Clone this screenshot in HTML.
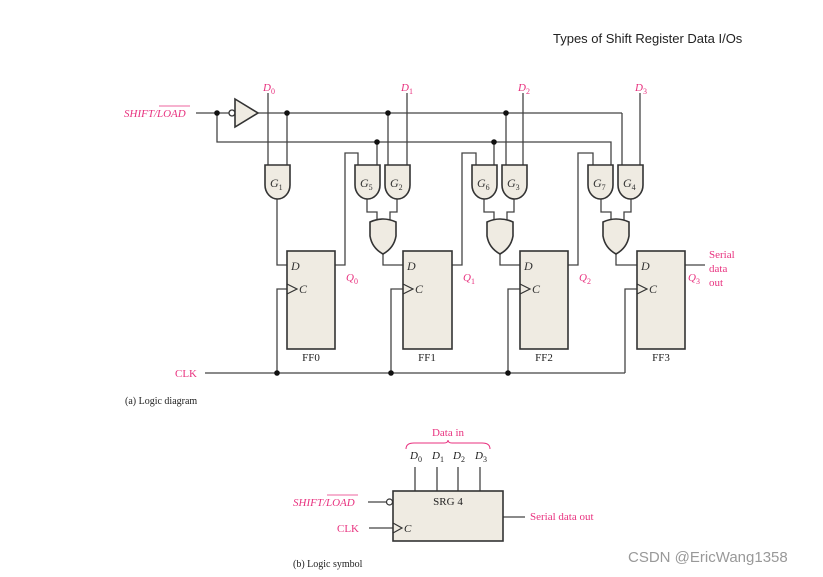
<!DOCTYPE html>
<html><head><meta charset="utf-8"><style>
html,body{margin:0;padding:0;background:#fff;}
svg{display:block;}
text{font-family:"Liberation Serif",serif;}
.m{fill:#e8327f;}
tspan.s{font-style:normal;}
</style></head><body>
<svg width="823" height="577" viewBox="0 0 823 577" xmlns="http://www.w3.org/2000/svg">
<defs>
<g id="and"><path d="M0 0 V20 A12.5 14 0 0 0 25 20 V0 Z" fill="#efebe2" stroke="#333" stroke-width="1.6"/></g>
<g id="or"><path d="M0 2 Q13 -4 26 2 L26 16 Q24 28 13 34 Q2 28 0 16 Z" fill="#efebe2" stroke="#333" stroke-width="1.6"/></g>
</defs>
<text x="553" y="43" font-size="13" fill="#222" style="font-family:'Liberation Sans',sans-serif">Types of Shift Register Data I/Os</text>

<g stroke="#444" stroke-width="1.3" fill="none">
<line x1="196" y1="113" x2="229" y2="113"/>
<line x1="258" y1="113" x2="622" y2="113"/>
<polyline points="217,113 217,142 611,142 611,165"/>
<line x1="622" y1="113" x2="622" y2="165"/>
<line x1="268" y1="93" x2="268" y2="165"/>
<line x1="407" y1="93" x2="407" y2="165"/>
<line x1="523" y1="93" x2="523" y2="165"/>
<line x1="640" y1="93" x2="640" y2="165"/>
<line x1="287" y1="113" x2="287" y2="165"/>
<line x1="377" y1="142" x2="377" y2="165"/>
<line x1="388" y1="113" x2="388" y2="165"/>
<line x1="494" y1="142" x2="494" y2="165"/>
<line x1="506" y1="113" x2="506" y2="165"/>
<polyline points="277,199 277,265 287,265"/>
<polyline points="335,265 345,265 345,153 358,153 358,165"/>
<polyline points="452,265 462,265 462,153 476,153 476,165"/>
<polyline points="568,265 578,265 578,153 593,153 593,165"/>
<line x1="685" y1="265" x2="705" y2="265"/>
<polyline points="367,199 367,212 377,212 377,222"/>
<polyline points="397,199 397,212 390,212 390,222"/>
<polyline points="484,199 484,212 494,212 494,222"/>
<polyline points="514,199 514,212 507,212 507,222"/>
<polyline points="601,199 601,212 611,212 611,222"/>
<polyline points="631,199 631,212 624,212 624,222"/>
<polyline points="383,254 383,265 403,265"/>
<polyline points="500,254 500,265 520,265"/>
<polyline points="616,254 616,265 637,265"/>
<line x1="205" y1="373" x2="625" y2="373"/>
<polyline points="277,373 277,289 287,289"/>
<polyline points="391,373 391,289 403,289"/>
<polyline points="508,373 508,289 520,289"/>
<polyline points="625,373 625,289 637,289"/>
</g>
<circle cx="232" cy="113" r="3" fill="#fff" stroke="#333" stroke-width="1.3"/>
<path d="M235 99 L258 113 L235 127 Z" fill="#efebe2" stroke="#333" stroke-width="1.6"/>
<g fill="#111">
<circle cx="217" cy="113" r="2.8"/><circle cx="287" cy="113" r="2.8"/><circle cx="388" cy="113" r="2.8"/><circle cx="506" cy="113" r="2.8"/>
<circle cx="377" cy="142" r="2.8"/><circle cx="494" cy="142" r="2.8"/>
<circle cx="277" cy="373" r="2.8"/><circle cx="391" cy="373" r="2.8"/><circle cx="508" cy="373" r="2.8"/>
</g>
<use href="#and" x="265" y="165"/>
<use href="#and" x="355" y="165"/><use href="#and" x="385" y="165"/>
<use href="#and" x="472" y="165"/><use href="#and" x="502" y="165"/>
<use href="#and" x="588" y="165"/><use href="#and" x="618" y="165"/>
<use href="#or" x="370" y="220"/><use href="#or" x="487" y="220"/><use href="#or" x="603" y="220"/>
<g font-size="12" fill="#333" font-style="italic">
<text x="270" y="187">G<tspan class="s" font-size="8" dy="3">1</tspan></text>
<text x="360" y="187">G<tspan class="s" font-size="8" dy="3">5</tspan></text>
<text x="390" y="187">G<tspan class="s" font-size="8" dy="3">2</tspan></text>
<text x="477" y="187">G<tspan class="s" font-size="8" dy="3">6</tspan></text>
<text x="507" y="187">G<tspan class="s" font-size="8" dy="3">3</tspan></text>
<text x="593" y="187">G<tspan class="s" font-size="8" dy="3">7</tspan></text>
<text x="623" y="187">G<tspan class="s" font-size="8" dy="3">4</tspan></text>
</g>
<g fill="#efebe2" stroke="#333" stroke-width="1.6">
<rect x="287" y="251" width="48" height="98"/>
<rect x="403" y="251" width="49" height="98"/>
<rect x="520" y="251" width="48" height="98"/>
<rect x="637" y="251" width="48" height="98"/>
</g>
<g fill="none" stroke="#333" stroke-width="1.2">
<polyline points="287,284 297,289 287,294"/>
<polyline points="403,284 413,289 403,294"/>
<polyline points="520,284 530,289 520,294"/>
<polyline points="637,284 647,289 637,294"/>
</g>
<g font-size="12" fill="#333" font-style="italic">
<text x="291" y="270">D</text><text x="299" y="293">C</text>
<text x="407" y="270">D</text><text x="415" y="293">C</text>
<text x="524" y="270">D</text><text x="532" y="293">C</text>
<text x="641" y="270">D</text><text x="649" y="293">C</text>
</g>
<g font-size="11" fill="#222" text-anchor="middle">
<text x="311" y="361">FF0</text><text x="427" y="361">FF1</text><text x="544" y="361">FF2</text><text x="661" y="361">FF3</text>
</g>
<g font-size="11" class="m">
<text x="124" y="117" font-style="italic">SHIFT/LOAD</text>
<line x1="159" y1="106" x2="190" y2="106" stroke="#e8327f" stroke-width="0.8"/>
<text x="175" y="377">CLK</text>
<text x="709" y="258">Serial</text><text x="709" y="272">data</text><text x="709" y="286">out</text>
</g>
<g font-size="11" class="m" font-style="italic">
<text x="263" y="91">D<tspan class="s" font-size="8" dy="3">0</tspan></text>
<text x="401" y="91">D<tspan class="s" font-size="8" dy="3">1</tspan></text>
<text x="518" y="91">D<tspan class="s" font-size="8" dy="3">2</tspan></text>
<text x="635" y="91">D<tspan class="s" font-size="8" dy="3">3</tspan></text>
<text x="346" y="281">Q<tspan class="s" font-size="8" dy="3">0</tspan></text>
<text x="463" y="281">Q<tspan class="s" font-size="8" dy="3">1</tspan></text>
<text x="579" y="281">Q<tspan class="s" font-size="8" dy="3">2</tspan></text>
<text x="688" y="281">Q<tspan class="s" font-size="8" dy="3">3</tspan></text>
</g>
<text x="125" y="404" font-size="10" fill="#222">(a) Logic diagram</text>

<text x="448" y="436" font-size="11" class="m" text-anchor="middle">Data in</text>
<path d="M406 449 Q406 443 414 443 L444 443 Q448 443 448 440 Q448 443 452 443 L482 443 Q490 443 490 449" fill="none" stroke="#e8327f" stroke-width="1"/>
<g font-size="11" fill="#222" font-style="italic">
<text x="410" y="459">D<tspan class="s" font-size="8" dy="3">0</tspan></text>
<text x="432" y="459">D<tspan class="s" font-size="8" dy="3">1</tspan></text>
<text x="453" y="459">D<tspan class="s" font-size="8" dy="3">2</tspan></text>
<text x="475" y="459">D<tspan class="s" font-size="8" dy="3">3</tspan></text>
</g>
<g stroke="#444" stroke-width="1.3">
<line x1="415" y1="467" x2="415" y2="491"/><line x1="437" y1="467" x2="437" y2="491"/>
<line x1="458" y1="467" x2="458" y2="491"/><line x1="480" y1="467" x2="480" y2="491"/>
<line x1="368" y1="502" x2="386" y2="502"/>
<line x1="369" y1="528" x2="393" y2="528"/>
<line x1="503" y1="517" x2="525" y2="517"/>
</g>
<rect x="393" y="491" width="110" height="50" fill="#efebe2" stroke="#333" stroke-width="1.6"/>
<circle cx="389.5" cy="502" r="3" fill="#fff" stroke="#333" stroke-width="1.2"/>
<polyline points="393,523 402,528 393,533" fill="none" stroke="#333" stroke-width="1.2"/>
<text x="404" y="532" font-size="11" font-style="italic" fill="#222">C</text>
<text x="448" y="505" font-size="11" fill="#222" text-anchor="middle">SRG 4</text>
<text x="293" y="506" font-size="11" class="m" font-style="italic">SHIFT/LOAD</text>
<line x1="327" y1="495" x2="358" y2="495" stroke="#e8327f" stroke-width="0.8"/>
<text x="337" y="532" font-size="11" class="m">CLK</text>
<text x="530" y="520" font-size="11" class="m">Serial data out</text>
<text x="293" y="567" font-size="10" fill="#222">(b) Logic symbol</text>

<text x="628" y="562" font-size="15" fill="#999" style="font-family:'Liberation Sans','Noto Sans CJK SC',sans-serif">CSDN @EricWang1358</text>
</svg>
</body></html>
